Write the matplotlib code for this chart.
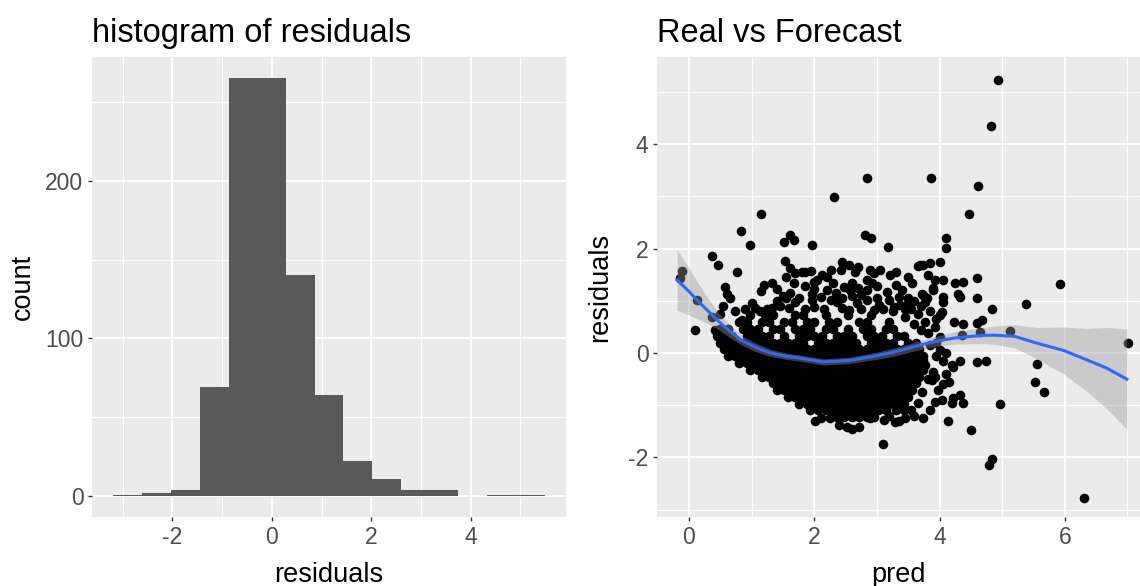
import matplotlib
matplotlib.use("Agg")
import matplotlib.pyplot as plt
import numpy as np
from matplotlib.ticker import FixedLocator

plt.rcParams['font.family'] = ['Liberation Sans', 'DejaVu Sans']
plt.rcParams['axes.unicode_minus'] = False

# ---------------- data: histogram of residuals ----------------
hist_edges = [-3.19, -2.61, -2.03, -1.45, -0.87, -0.30, 0.28, 0.86, 1.44,
              2.01, 2.59, 3.17, 3.75, 4.33, 4.91, 5.49]
hist_counts = [1, 2, 4, 69, 265, 265, 140, 64, 22, 11, 4, 4, 0, 1, 1]

# ---------------- data: residuals vs pred (scattered points) ----------------
sparse_points = [
    (4.94, 5.22), (4.82, 4.34), (2.84, 3.36), (3.86, 3.36), (4.62, 3.19), (2.32, 2.98),
    (4.47, 2.66), (1.15, 2.66), (0.83, 2.34), (0.98, 2.07), (1.96, 2.07), (1.51, 2.13),
    (1.62, 2.27), (1.67, 2.17), (2.81, 2.26), (2.91, 2.20), (3.17, 2.04), (4.10, 2.21),
    (4.10, 2.02), (0.37, 1.86), (0.47, 1.69), (0.77, 1.55), (-0.11, 1.57), (-0.14, 1.44),
    (1.32, 1.35), (1.15, 1.19), (0.58, 1.27), (0.61, 1.14), (0.66, 1.05), (0.13, 1.02),
    (0.10, 0.44), (5.93, 1.33), (5.38, 0.94), (7.01, 0.20), (5.12, 0.42), (4.83, 0.84),
    (4.60, 1.44), (4.60, 1.05), (4.38, 1.37), (4.25, 1.34), (4.30, 1.14), (4.33, 1.08),
    (4.01, 1.75), (3.85, 1.72), (3.69, 1.69), (3.82, 1.49), (3.93, 1.40), (4.06, 1.40),
    (3.90, 1.24), (3.74, 1.11), (3.77, 0.98), (4.06, 1.08), (4.06, 0.98), (4.04, 0.79),
    (4.01, 0.73), (3.77, 0.60), (3.93, 0.50), (3.82, 0.39), (4.23, 0.60), (4.38, 0.56),
    (4.60, 0.57), (4.68, 0.63), (4.01, 0.31), (4.36, 0.34), (4.65, 0.41),
    (5.55, -0.21), (5.53, -0.56), (5.67, -0.74), (4.97, -0.98), (4.51, -1.48),
    (4.83, -2.03), (4.79, -2.15), (6.31, -2.77), (4.60, -0.18), (4.74, -0.15),
    (4.33, -0.15), (4.22, -0.27), (4.20, -0.23), (4.01, 0.06), (3.74, -0.13),
    (3.77, -0.23), (3.90, -0.36), (3.93, -0.45), (3.88, -0.52), (3.82, -0.50),
    (3.72, -0.74), (4.04, -0.89), (3.93, -0.93), (3.85, -1.09), (4.22, -0.87),
    (4.33, -0.80), (4.38, -0.95), (3.74, -1.25), (4.13, -1.30),
    (3.10, -1.75), (2.10, -1.25), (2.25, -1.25), (2.52, -1.41), (2.71, -1.41),
    (2.89, -1.25), (3.11, -1.28), (3.29, -1.32), (3.05, -1.07), (3.43, -1.09),
    (3.55, -1.10), (3.65, -0.95), (3.60, -1.20), (3.45, -1.25), (3.35, -1.30),
    (3.20, -1.20), (3.30, -1.10), (2.02, -1.30), (2.40, -1.38), (2.60, -1.45),
    (1.54, 1.77), (1.62, 1.62), (1.69, 1.53), (1.80, 1.56), (1.62, 1.15), (1.67, 1.34),
    (1.85, 1.28), (1.32, 0.86), (1.13, 0.80), (0.74, 0.80), (0.84, 0.63), (0.37, 0.70),
    (0.42, 0.44), (2.55, 1.69), (2.42, 1.59), (2.26, 1.59), (2.21, 1.46), (1.99, 1.36),
    (1.86, 1.56), (2.89, 1.59), (2.95, 1.53), (2.84, 1.40), (2.92, 1.34), (3.21, 1.49),
    (2.47, 1.27), (2.60, 1.34), (2.57, 1.21), (1.96, 1.14), (1.96, 1.02), (3.16, 1.17),
    (3.40, 1.21), (3.56, 1.34), (3.66, 1.66), (3.74, 1.69), (3.72, 1.14), (3.80, 1.05),
    (3.90, 1.21), (2.26, 1.02), (2.36, 0.98), (2.68, 0.95), (2.84, 1.02), (3.03, 0.92),
    (3.27, 0.89), (3.37, 0.92), (1.40, 1.00), (1.55, 1.05), (1.75, 1.05), (1.45, 0.90),
    (1.00, 0.95), (0.90, 0.85), (0.55, 0.90), (0.50, 0.75), (1.20, 1.30), (1.55, 1.45),
    (2.05, 1.40), (2.30, 1.35), (2.65, 1.55), (2.45, 1.75), (2.12, 1.50),
    (3.55, 0.85), (3.60, 1.00), (3.65, 0.75), (3.50, 1.05), (3.45, 0.70), (3.70, 0.90),
    (3.85, 0.80), (3.95, 0.65), (3.60, 0.55), (3.70, 0.45), (3.95, 0.20), (3.85, 0.15),
    (4.10, 0.00), (4.05, -0.15), (3.95, -0.05), (4.15, -0.55), (4.05, -0.60),
    (4.10, -0.40), (3.98, -0.70), (4.20, -0.95),
    (1.05, 0.86), (1.25, 0.84), (1.60, 0.87), (1.85, 0.85), (2.00, 0.88), (2.15, 0.84),
    (2.45, 0.86), (2.55, 0.83), (2.75, 0.85), (2.95, 0.82), (3.10, 0.85), (3.25, 0.80),
    (3.45, 0.84), (1.50, 1.10), (1.70, 0.98), (2.10, 1.08), (2.45, 1.05), (2.60, 1.10),
    (2.75, 1.12), (3.00, 1.05), (3.20, 1.02), (3.35, 1.08), (3.50, 0.95), (1.40, 1.22),
    (2.00, 1.22), (2.20, 1.20), (2.70, 1.25), (3.00, 1.28), (3.30, 1.30), (1.95, 1.58),
    (2.70, 1.65), (3.05, 1.60), (3.30, 1.55), (3.50, 1.45), (2.35, 1.15), (2.85, 1.20),
]

# dense core of the cloud: residual level -> pred values read along that row
core_rows = {
    0.72: [0.98, 1.22, 1.34, 1.70, 1.82, 2.18, 2.54, 2.90],
    0.59: [0.80, 0.92, 1.16, 1.28, 1.52, 1.64, 1.88, 2.00, 2.24, 2.36, 2.72, 2.84, 3.20],
    0.46: [0.50, 0.62, 0.86, 0.98, 1.10, 1.34, 1.46, 1.70, 1.82, 1.94, 2.18, 2.30,
           2.54, 2.78, 2.90, 3.14, 3.26],
    0.33: [0.44, 0.56, 0.68, 0.92, 1.04, 1.16, 1.28, 1.52, 1.76, 1.88, 2.00, 2.12, 2.36,
           2.48, 2.60, 2.84, 2.96, 3.08, 3.32, 3.44],
    0.20: [0.50, 0.62, 0.74, 0.86, 0.98, 1.10, 1.22, 1.34, 1.46, 1.58, 1.70, 1.82, 2.06,
           2.18, 2.30, 2.42, 2.54, 2.66, 2.90, 3.02, 3.14, 3.26, 3.50, 3.62],
    0.07: [0.56, 0.68, 0.80, 0.92, 1.04, 1.16, 1.28, 1.40, 1.52, 1.64, 1.76, 1.88, 2.00,
           2.12, 2.24, 2.36, 2.48, 2.60, 2.72, 2.84, 2.96, 3.08, 3.20, 3.32, 3.44, 3.56,
           3.68],
    -0.06: [0.62, 0.74, 0.86, 0.98, 1.10, 1.22, 1.34, 1.46, 1.58, 1.70, 1.82, 1.94, 2.06,
            2.18, 2.30, 2.42, 2.54, 2.66, 2.78, 2.90, 3.02, 3.14, 3.26, 3.38, 3.50, 3.62,
            3.74],
    -0.19: [0.80, 0.92, 1.04, 1.16, 1.28, 1.40, 1.52, 1.64, 1.76, 1.88, 2.00, 2.12, 2.24,
            2.36, 2.48, 2.60, 2.72, 2.84, 2.96, 3.08, 3.20, 3.32, 3.44, 3.56, 3.68],
    -0.32: [0.98, 1.10, 1.22, 1.34, 1.46, 1.58, 1.70, 1.82, 1.94, 2.06, 2.18, 2.30, 2.42,
            2.54, 2.66, 2.78, 2.90, 3.02, 3.14, 3.26, 3.38, 3.50, 3.62, 3.74],
    -0.45: [1.16, 1.28, 1.40, 1.52, 1.64, 1.76, 1.88, 2.00, 2.12, 2.24, 2.36, 2.48, 2.60,
            2.72, 2.84, 2.96, 3.08, 3.20, 3.32, 3.44, 3.56, 3.68],
    -0.58: [1.34, 1.46, 1.58, 1.70, 1.82, 1.94, 2.06, 2.18, 2.30, 2.42, 2.54, 2.66, 2.78,
            2.90, 3.02, 3.14, 3.26, 3.38, 3.50, 3.62],
    -0.71: [1.40, 1.52, 1.64, 1.76, 1.88, 2.00, 2.12, 2.24, 2.36, 2.48, 2.60, 2.72, 2.84,
            2.96, 3.08, 3.20, 3.32, 3.44, 3.56],
    -0.84: [1.58, 1.70, 1.82, 1.94, 2.06, 2.18, 2.30, 2.42, 2.54, 2.66, 2.78, 2.90, 3.02,
            3.14, 3.26, 3.38, 3.50],
    -0.97: [1.76, 1.88, 2.00, 2.12, 2.24, 2.36, 2.48, 2.60, 2.72, 2.84, 2.96, 3.08, 3.20,
            3.32, 3.44],
    -1.10: [1.94, 2.06, 2.18, 2.30, 2.42, 2.54, 2.66, 2.78, 2.90, 3.02, 3.14],
    -1.23: [2.36, 2.48, 2.60, 2.72, 2.84, 2.96],
}

# ---------------- data: loess smooth with confidence band ----------------
smooth_pred = [-0.19, 0.00, 0.14, 0.30, 0.47, 0.66, 0.86, 1.08, 1.31, 1.55, 1.78, 2.15,
               2.57, 3.00, 3.28, 3.53, 3.78, 4.01, 4.25, 4.50, 4.75, 4.90, 5.20, 5.55,
               5.98, 6.35, 6.67, 6.99]
smooth_fit = [1.40, 1.18, 1.00, 0.81, 0.61, 0.41, 0.23, 0.10, 0.00, -0.06, -0.10, -0.17,
              -0.14, -0.05, 0.02, 0.10, 0.18, 0.24, 0.29, 0.32, 0.34, 0.34, 0.32, 0.19,
              0.05, -0.13, -0.29, -0.50]
smooth_lo = [0.82, 0.73, 0.65, 0.56, 0.45, 0.29, 0.14, 0.02, -0.07, -0.12, -0.16, -0.23,
             -0.20, -0.12, -0.06, 0.02, 0.09, 0.14, 0.17, 0.18, 0.18, 0.16, 0.10, -0.11,
             -0.40, -0.73, -1.07, -1.46]
smooth_hi = [1.98, 1.63, 1.35, 1.06, 0.77, 0.53, 0.32, 0.18, 0.07, 0.00, -0.04, -0.11,
             -0.08, 0.02, 0.10, 0.18, 0.27, 0.34, 0.41, 0.46, 0.50, 0.52, 0.54, 0.49,
             0.50, 0.47, 0.49, 0.46]

# ---------------- drawing ----------------
W, H = 1140, 586
fig = plt.figure(figsize=(W / 100, H / 100), dpi=100)
fig.patch.set_facecolor('white')

PANEL = '#EBEBEB'
TICK_COL = '#333333'
LAB_COL = '#4D4D4D'


def px_axes(x0, y0, x1, y1):
    return fig.add_axes([x0 / W, 1 - y1 / H, (x1 - x0) / W, (y1 - y0) / H])


def gg_style(ax, xmaj, xmin, ymaj, ymin):
    ax.set_facecolor(PANEL)
    for s in ax.spines.values():
        s.set_visible(False)
    ax.xaxis.set_major_locator(FixedLocator(xmaj))
    ax.xaxis.set_minor_locator(FixedLocator(xmin))
    ax.yaxis.set_major_locator(FixedLocator(ymaj))
    ax.yaxis.set_minor_locator(FixedLocator(ymin))
    ax.grid(which='major', color='white', linewidth=1.5)
    ax.grid(which='minor', color='white', linewidth=0.8)
    ax.set_axisbelow(True)
    ax.tick_params(which='major', length=3.2, width=1.0, color=TICK_COL,
                   labelcolor=LAB_COL, labelsize=16.5)
    ax.tick_params(axis='x', which='major', pad=3.5)
    ax.tick_params(axis='y', which='major', pad=3)
    ax.tick_params(which='minor', length=0)


# left panel: histogram
ax1 = px_axes(92, 57, 566, 517)
lefts = hist_edges[:-1]
widths = np.diff(hist_edges)
ax1.bar(lefts, hist_counts, width=widths, align='edge', color='#595959',
        edgecolor='none', zorder=2)
ax1.set_xlim(-3.62, 5.92)
ax1.set_ylim(-13.25, 278.5)
gg_style(ax1, [-2, 0, 2, 4], [-3, -1, 1, 3, 5], [0, 100, 200], [50, 150, 250])
ax1.set_xlabel('residuals', fontsize=19.5, labelpad=9)
ax1.set_ylabel('count', fontsize=19.5, labelpad=6.5)
ax1.set_title('histogram of residuals', loc='left', fontsize=23.5, pad=11)

# right panel: residuals vs pred
ax2 = px_axes(657, 57, 1140, 517)
px = [p for p, r in sparse_points]
py = [r for p, r in sparse_points]
for lvl, preds in core_rows.items():
    px.extend(preds)
    py.extend([lvl] * len(preds))
ax2.scatter(px, py, s=48, color='black', linewidths=0, zorder=2)
ax2.fill_between(smooth_pred, smooth_lo, smooth_hi, color='#999999', alpha=0.4,
                 linewidth=0, zorder=3)
ax2.plot(smooth_pred, smooth_fit, color='#3366FF', linewidth=2.2, zorder=4)
ax2.set_xlim(-0.51, 7.20)
ax2.set_ylim(-3.14, 5.67)
gg_style(ax2, [0, 2, 4, 6], [1, 3, 5, 7], [-2, 0, 2, 4], [-3, -1, 1, 3, 5])
ax2.set_xlabel('pred', fontsize=19.5, labelpad=9)
ax2.set_ylabel('residuals', fontsize=19.5, labelpad=10.5)
ax2.set_title('Real vs Forecast', loc='left', fontsize=23.5, pad=11)

fig.savefig('out.png', dpi=100)
